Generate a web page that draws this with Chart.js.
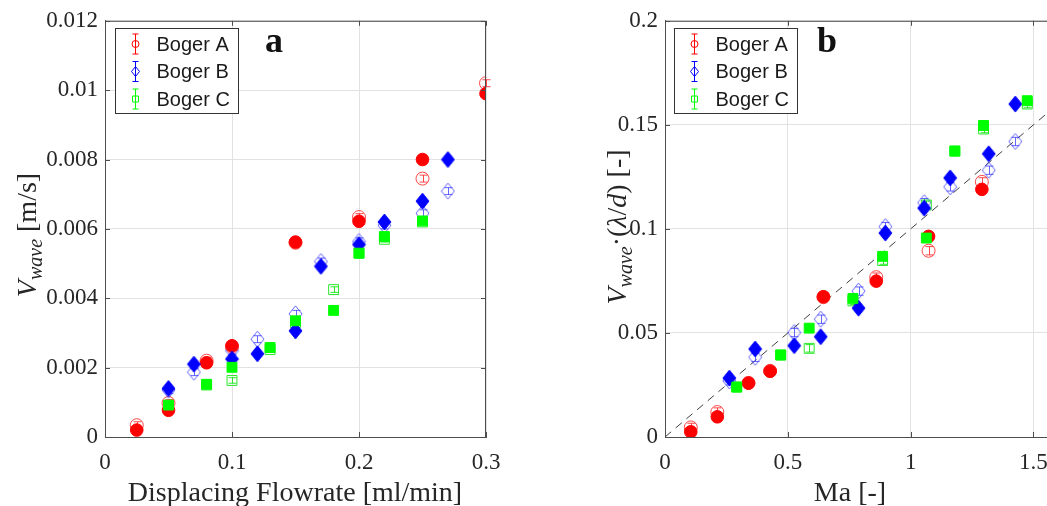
<!DOCTYPE html>
<html lang="en">
<head>
  <meta charset="UTF-8">
  <title>Wave velocity - Boger fluids</title>
  <script src="https://cdn.jsdelivr.net/npm/chart.js"></script>
  <style>
    html, body { margin: 0; padding: 0; background: #fff; overflow: hidden; }
    body { width: 1047px; height: 506px; position: relative; }
    .panel { position: absolute; top: 0; }
    #panelA { left: 0; }
    #panelB { left: 560px; }
  </style>
</head>
<body>
  <div class="panel" id="panelA"><canvas id="chartA" width="520" height="506"></canvas></div>
  <div class="panel" id="panelB"><canvas id="chartB" width="510" height="506"></canvas></div>

  <script>
    // ---- panel a : V_wave vs displacing flowrate ----
    const flowA = [0.025, 0.05, 0.08, 0.1, 0.15, 0.2, 0.25, 0.3];
    const velA = [0.0002, 0.00077, 0.00214, 0.00263, 0.00562, 0.00622, 0.0080, 0.0099];
    const velA_eb = [0.00034, 0.00098, 0.0022, 0.0026, 0.0056, 0.00634, 0.00745, 0.0102];
    const errA = [0.0001, 0.0001, 0.0001, 0.0001, 0.0001, 0.0001, 0.0001, 0.0001];

    const flowB = [0.05, 0.07, 0.1, 0.12, 0.15, 0.17, 0.2, 0.22, 0.25, 0.27];
    const velB = [0.0014, 0.0021, 0.00225, 0.0024, 0.00306, 0.00492, 0.00555, 0.0062, 0.0068, 0.0080];
    const velB_eb = [0.00135, 0.00187, 0.00249, 0.00282, 0.00355, 0.00506, 0.00564, 0.0061, 0.00645, 0.00709];
    const errB = [0.0001, 0.0001, 0.0001, 0.0001, 0.0001, 0.0001, 0.0001, 0.0001, 0.0001, 0.0001];

    const flowC = [0.05, 0.08, 0.1, 0.13, 0.15, 0.18, 0.2, 0.22, 0.25];
    const velC = [0.00092, 0.00152, 0.00201, 0.00258, 0.00335, 0.00365, 0.0053, 0.00578, 0.00623];
    const velC_eb = [0.0009, 0.0015, 0.00163, 0.00252, 0.0033, 0.00425, 0.0053, 0.0057, 0.0062];
    const errC = [0.00008, 0.00008, 0.00008, 0.00008, 0.00008, 0.00008, 0.00008, 0.00008, 0.00008];

    const xTicksA = [0, 0.1, 0.2, 0.3];
    const xLabelsA = ['0', '0.1', '0.2', '0.3'];
    const yTicksA = [0, 0.002, 0.004, 0.006, 0.008, 0.01, 0.012];
    const yLabelsA = ['0', '0.002', '0.004', '0.006', '0.008', '0.01', '0.012'];

    // ---- panel b : V_wave*(lambda/d) vs Ma ----
    const maA = [0.105, 0.213, 0.34, 0.428, 0.645, 0.86, 1.073, 1.29];
    const normA = [0.0025, 0.0097, 0.0259, 0.0316, 0.0674, 0.0749, 0.0964, 0.119];
    const normA_eb = [0.0046, 0.012, 0.026, 0.0318, 0.0672, 0.0768, 0.0895, 0.1226];
    const errNormA = [0.002, 0.002, 0.002, 0.002, 0.002, 0.002, 0.002, 0.002];

    const maB = [0.262, 0.367, 0.526, 0.634, 0.788, 0.897, 1.055, 1.161, 1.318, 1.426];
    const normB = [0.0283, 0.0423, 0.0439, 0.0482, 0.0619, 0.098, 0.110, 0.1245, 0.1361, 0.160];
    const normB_eb = [0.027, 0.0383, 0.0502, 0.0566, 0.0701, 0.1011, 0.1126, 0.1202, 0.1282, 0.142];
    const errNormB = [0.002, 0.002, 0.002, 0.002, 0.002, 0.002, 0.002, 0.002, 0.002, 0.002];

    const maC = [0.292, 0.471, 0.587, 0.765, 0.886, 1.064, 1.18, 1.297, 1.475];
    const normC = [0.024, 0.0394, 0.0523, 0.0666, 0.0868, 0.0956, 0.1374, 0.1497, 0.1616];
    const normC_eb = [0.024, 0.0394, 0.0426, 0.0654, 0.0848, 0.1115, 0.1374, 0.148, 0.160];
    const errNormC = [0.0018, 0.0018, 0.0018, 0.0018, 0.0018, 0.0018, 0.0018, 0.0018, 0.0018];

    const fitMa = [0, 1.6];
    const fitNorm = [0, 0.16];

    const xTicksB = [0, 0.5, 1, 1.5];
    const xLabelsB = ['0', '0.5', '1', '1.5'];
    const yTicksB = [0, 0.05, 0.1, 0.15, 0.2];
    const yLabelsB = ['0', '0.05', '0.1', '0.15', '0.2'];

    const seriesNames = ['Boger A', 'Boger B', 'Boger C'];

    const RED = '#ff0000', BLUE = '#0000ff', GREEN = '#00ff00';
    const RED_O = 'rgba(255,40,40,0.85)', BLUE_O = 'rgba(50,50,255,0.75)', GREEN_O = 'rgba(20,230,20,0.9)';
    const AXIS = '#4d4d4d', TEXT = '#262626';
    const SERIF = '"Liberation Serif", "Times New Roman", serif';

    function pts(xs, ys) { return xs.map((x, i) => ({ x: x, y: ys[i] })); }

    // MATLAB style diamond (a bit taller than wide)
    function diamond(fill, stroke, w, h) {
      const c = document.createElement('canvas');
      c.width = w + 2; c.height = h + 2;
      const g = c.getContext('2d');
      g.beginPath();
      g.moveTo(c.width / 2, 1);
      g.lineTo(c.width - 1, c.height / 2);
      g.lineTo(c.width / 2, c.height - 1);
      g.lineTo(1, c.height / 2);
      g.closePath();
      if (fill) { g.fillStyle = fill; g.fill(); }
      if (stroke) { g.strokeStyle = stroke; g.lineWidth = 1; g.stroke(); }
      return c;
    }
    const diaFill = diamond(BLUE, BLUE, 13, 16);
    const diaOpen = diamond(null, BLUE_O, 13, 16);

    function datasets(xa, ya, yaE, ea, xb, yb, ybE, eb, xc, yc, ycE, ec) {
      // first = on top
      return [
        { data: pts(xc, yc), pointStyle: 'rect', pointRadius: 7, backgroundColor: GREEN, borderColor: GREEN, borderWidth: 1 },
        { data: pts(xb, yb), pointStyle: diaFill, backgroundColor: BLUE, borderColor: BLUE },
        { data: pts(xa, ya), pointStyle: 'circle', pointRadius: 6.3, backgroundColor: RED, borderColor: RED, borderWidth: 1 },
        { data: pts(xc, ycE), err: ec, pointStyle: 'rect', pointRadius: 7, backgroundColor: 'rgba(0,0,0,0)', borderColor: GREEN_O, borderWidth: 1 },
        { data: pts(xb, ybE), err: eb, pointStyle: diaOpen, backgroundColor: 'rgba(0,0,0,0)', borderColor: BLUE_O },
        { data: pts(xa, yaE), err: ea, pointStyle: 'circle', pointRadius: 6.5, backgroundColor: 'rgba(0,0,0,0)', borderColor: RED_O, borderWidth: 1 }
      ];
    }

    function drawRich(ctx, parts, cx, cy, size, rot) {
      ctx.save();
      ctx.translate(cx, cy);
      if (rot) ctx.rotate(-Math.PI / 2);
      const fontOf = p => (p.it ? 'italic ' : '') + (p.sub ? Math.round(size * 0.72) : size) + 'px ' + SERIF;
      let total = 0;
      parts.forEach(p => { ctx.font = fontOf(p); total += ctx.measureText(p.t).width; });
      let x = -total / 2;
      ctx.fillStyle = TEXT;
      ctx.textBaseline = 'alphabetic';
      ctx.textAlign = 'left';
      parts.forEach(p => {
        ctx.font = fontOf(p);
        ctx.fillText(p.t, x, size * 0.33 + (p.sub ? size * 0.22 : 0));
        x += ctx.measureText(p.t).width;
      });
      ctx.restore();
    }

    const decor = {
      id: 'decor',
      afterDatasetDraw(chart, args) {
        const ds = chart.data.datasets[args.index];
        if (!ds.err) return;
        const ctx = chart.ctx, xs = chart.scales.x, ys = chart.scales.y;
        ctx.save();
        ctx.strokeStyle = ds.borderColor;
        ctx.lineWidth = 1;
        ds.data.forEach((p, i) => {
          const px = Math.round(xs.getPixelForValue(p.x)) + 0.5;
          const y1 = ys.getPixelForValue(p.y + ds.err[i]);
          const y2 = ys.getPixelForValue(p.y - ds.err[i]);
          ctx.beginPath();
          ctx.moveTo(px, y1); ctx.lineTo(px, y2);
          ctx.moveTo(px - 4, y1); ctx.lineTo(px + 4, y1);
          ctx.moveTo(px - 4, y2); ctx.lineTo(px + 4, y2);
          ctx.stroke();
        });
        ctx.restore();
      },
      afterDraw(chart) {
        const o = chart.options.plugins.decor;
        const ctx = chart.ctx, a = chart.chartArea;
        const xs = chart.scales.x, ys = chart.scales.y;
        ctx.save();
        // box + inward ticks
        ctx.strokeStyle = AXIS;
        ctx.lineWidth = 1;
        ctx.beginPath();
        ctx.moveTo(a.left + 0.5, a.top + 0.5); ctx.lineTo(a.right - 0.5, a.top + 0.5);
        ctx.lineTo(a.right - 0.5, a.bottom);
        xs.ticks.forEach(t => {
          const px = Math.round(xs.getPixelForValue(t.value)) + 0.5;
          ctx.moveTo(px, a.bottom); ctx.lineTo(px, a.bottom - 5);
          ctx.moveTo(px, a.top); ctx.lineTo(px, a.top + 5);
        });
        ys.ticks.forEach(t => {
          const py = Math.round(ys.getPixelForValue(t.value)) + 0.5;
          ctx.moveTo(a.left, py); ctx.lineTo(a.left + 5, py);
          ctx.moveTo(a.right, py); ctx.lineTo(a.right - 5, py);
        });
        ctx.stroke();

        // legend
        const L = o.legend;
        ctx.fillStyle = '#fff';
        ctx.fillRect(L.x, L.y, L.w, L.h);
        ctx.strokeStyle = '#333';
        ctx.strokeRect(L.x + 0.5, L.y + 0.5, L.w, L.h);
        const cols = [RED, BLUE, GREEN];
        seriesNames.forEach((name, i) => {
          const cy = L.y + 16 + i * 27.5;
          const cx = L.x + 20.5;
          ctx.strokeStyle = cols[i];
          ctx.lineWidth = 1;
          ctx.beginPath();
          ctx.moveTo(cx, cy - 10); ctx.lineTo(cx, cy + 10);
          ctx.moveTo(cx - 3, cy - 10); ctx.lineTo(cx + 3, cy - 10);
          ctx.moveTo(cx - 3, cy + 10); ctx.lineTo(cx + 3, cy + 10);
          ctx.stroke();
          ctx.beginPath();
          if (i === 0) ctx.arc(cx, cy, 3.5, 0, Math.PI * 2);
          if (i === 1) { ctx.moveTo(cx, cy - 5); ctx.lineTo(cx + 4, cy); ctx.lineTo(cx, cy + 5); ctx.lineTo(cx - 4, cy); ctx.closePath(); }
          if (i === 2) ctx.rect(cx - 3, cy - 3, 6, 6);
          ctx.stroke();
          ctx.fillStyle = '#1a1a1a';
          ctx.font = '20px "Liberation Sans", Arial, sans-serif';
          ctx.textBaseline = 'middle';
          ctx.textAlign = 'left';
          ctx.fillText(name, L.x + 41.5, cy + 1);
        });

        // panel letter
        ctx.fillStyle = '#111';
        ctx.font = 'bold 36px ' + SERIF;
        ctx.textBaseline = 'alphabetic';
        ctx.fillText(o.letter.t, o.letter.x, o.letter.y);
        ctx.restore();

        // axis titles
        drawRich(ctx, o.xTitle.parts, o.xTitle.x, o.xTitle.y, 28, false);
        drawRich(ctx, o.yTitle.parts, o.yTitle.x, o.yTitle.y, 28, true);
      }
    };

    function makeOptions(xMin, xMax, xTicks, xLabels, yMax, yTicks, yLabels, pad, deco) {
      const tickFont = { family: SERIF, size: 23 };
      return {
        responsive: false,
        animation: false,
        events: [],
        layout: { padding: pad },
        plugins: { legend: { display: false }, tooltip: { enabled: false }, decor: deco },
        scales: {
          x: {
            type: 'linear', min: xMin, max: xMax,
            afterBuildTicks: s => { s.ticks = xTicks.map(v => ({ value: v })); },
            afterFit: s => { s.height = 69; },
            ticks: { font: tickFont, color: TEXT, padding: 12, maxRotation: 0, callback: (v, i) => xLabels[i] },
            grid: { color: '#e2e2e2', drawTicks: false },
            border: { color: AXIS, width: 1 }
          },
          y: {
            type: 'linear', min: 0, max: yMax,
            afterBuildTicks: s => { s.ticks = yTicks.map(v => ({ value: v })); },
            afterFit: s => { s.width = 105; },
            ticks: { font: tickFont, color: TEXT, padding: 7, callback: (v, i) => yLabels[i] },
            grid: { color: '#e2e2e2', drawTicks: false },
            border: { color: AXIS, width: 1 }
          }
        }
      };
    }

    Chart.register(decor);

    new Chart(document.getElementById('chartA').getContext('2d'), {
      type: 'scatter',
      data: {
        datasets: datasets(flowA, velA, velA_eb, errA, flowB, velB, velB_eb, errB, flowC, velC, velC_eb, errC)
      },
      options: makeOptions(0, 0.3, xTicksA, xLabelsA, 0.012, yTicksA, yLabelsA,
        { left: 0, top: 18, right: 34, bottom: 0 },
        {
          legend: { x: 115, y: 28, w: 123, h: 85 },
          letter: { t: 'a', x: 265, y: 52 },
          xTitle: { parts: [{ t: 'Displacing Flowrate [ml/min]' }], x: 295, y: 492 },
          yTitle: { parts: [{ t: 'V', it: true }, { t: 'wave', it: true, sub: true }, { t: ' [m/s]' }], x: 27, y: 235 }
        })
    });

    const dsB = datasets(maA, normA, normA_eb, errNormA, maB, normB, normB_eb, errNormB, maC, normC, normC_eb, errNormC);
    dsB.push({
      type: 'line', data: pts(fitMa, fitNorm), showLine: true, pointRadius: 0,
      borderColor: '#404040', borderWidth: 1, borderDash: [8, 6], fill: false
    });

    new Chart(document.getElementById('chartB').getContext('2d'), {
      type: 'scatter',
      data: { datasets: dsB },
      options: makeOptions(0, 1.6, xTicksB, xLabelsB, 0.2, yTicksB, yLabelsB,
        { left: 0, top: 18, right: 12, bottom: 0 },
        {
          legend: { x: 114, y: 28, w: 123, h: 85 },
          letter: { t: 'b', x: 257, y: 52 },
          xTitle: { parts: [{ t: 'Ma [-]' }], x: 290, y: 492 },
          yTitle: {
            parts: [{ t: 'V', it: true }, { t: 'wave', it: true, sub: true }, { t: '\u00b7(' }, { t: '\u03bb', it: true },
                    { t: '/' }, { t: 'd', it: true }, { t: ') [-]' }],
            x: 57, y: 227
          }
        })
    });
  </script>
</body>
</html>
